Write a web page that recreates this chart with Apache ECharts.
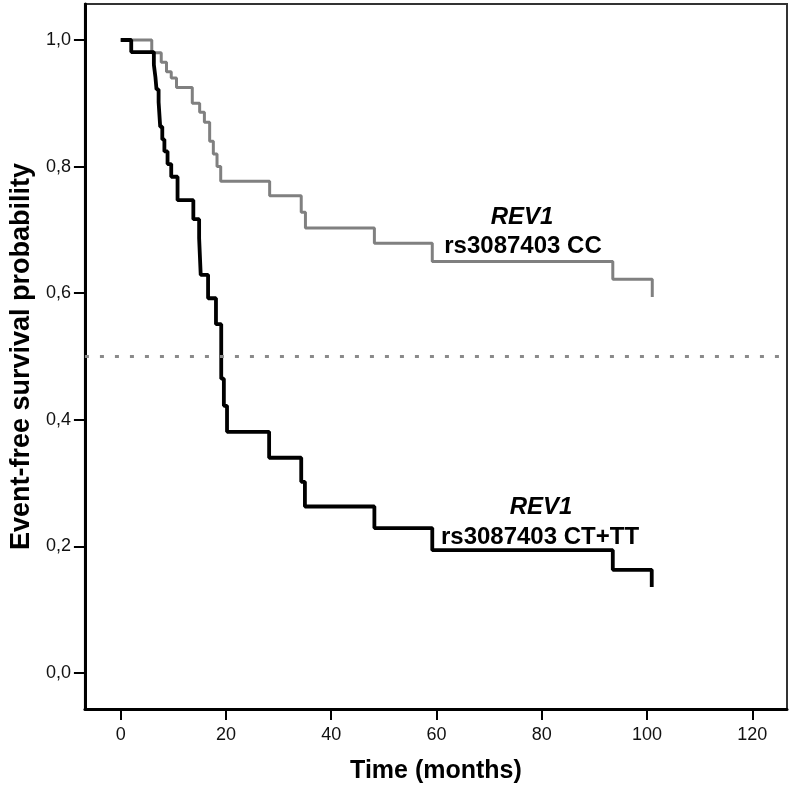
<!DOCTYPE html>
<html>
<head>
<meta charset="utf-8">
<script src="https://cdn.jsdelivr.net/npm/echarts@6/dist/echarts.min.js"></script>
<style>
html,body{margin:0;padding:0;background:#fff;}
#chart{width:792px;height:790px;}
</style>
</head>
<body>
<div id="chart"></div>
<script>
// ---- data ----
var xTicks = [0, 20, 40, 60, 80, 100, 120];
var yTicks = [0, 0.2, 0.4, 0.6, 0.8, 1.0];
// REV1 rs3087403 CC (grey): event times (months) and survival after each step
var ccTimes = [0, 5.9, 7.7, 8.7, 9.6, 10.6, 13.6, 15.0, 15.9, 16.9, 17.6, 18.3, 19.0, 28.3, 34.3, 35.1, 48.2, 59.2, 93.5, 101.0];
var ccSurv  = [1.0, 0.98, 0.965, 0.95, 0.94, 0.925, 0.90, 0.886, 0.87, 0.84, 0.82, 0.80, 0.777, 0.754, 0.728, 0.703, 0.679, 0.650, 0.622, 0.594];
// REV1 rs3087403 CT+TT (black)
var ctTimes = [0, 2.0, 6.3, 6.6, 6.8, 7.2, 7.5, 7.9, 8.3, 8.9, 9.6, 10.8, 13.8, 14.9, 15.2, 16.6, 18.1, 19.1, 19.6, 20.2, 28.2, 34.3, 35.0, 48.2, 59.2, 93.5, 100.9];
var ctSurv  = [1.0, 0.981, 0.961, 0.941, 0.922, 0.902, 0.863, 0.843, 0.824, 0.804, 0.784, 0.747, 0.717, 0.687, 0.629, 0.592, 0.551, 0.465, 0.422, 0.381, 0.340, 0.302, 0.263, 0.229, 0.194, 0.163, 0.136];
var medianLine = 0.5;
var xTitle = 'Time (months)';
var yTitle = 'Event-free survival probability';
var geneName = 'REV1';
var ccLabel = 'rs3087403 CC';
var ctLabel = 'rs3087403 CT+TT';

function pairs(t, s){ return t.map(function(v,i){ return [v, s[i]]; }); }

var chart = echarts.init(document.getElementById('chart'), null, {renderer:'canvas'});
var sans = "'Liberation Sans', Arial, sans-serif";

chart.setOption({
  animation: false,
  backgroundColor: '#fff',
  grid: {left: 80, top: 4, right: 5, bottom: 81, show: true, borderColor: '#333', borderWidth: 2, backgroundColor: 'transparent'},
  xAxis: {
    type: 'value', min: -6.8, max: 126.6,
    axisLine: {show: true, onZero: false, lineStyle: {color: '#000', width: 3}},
    axisTick: {show: true, inside: false, length: 11, customValues: xTicks, lineStyle: {color: '#000', width: 2}},
    axisLabel: {customValues: xTicks, margin: 17, fontFamily: sans, fontSize: 18, color: '#111'},
    splitLine: {show: false},
    name: xTitle, nameLocation: 'middle', nameGap: 50,
    nameTextStyle: {fontFamily: sans, fontWeight: 'bold', fontSize: 25, color: '#000'}
  },
  yAxis: {
    type: 'value', min: -0.0569, max: 1.0569,
    axisLine: {show: true, onZero: false, lineStyle: {color: '#000', width: 3}},
    axisTick: {show: true, inside: false, length: 11, customValues: yTicks, lineStyle: {color: '#000', width: 2}},
    axisLabel: {customValues: yTicks, margin: 14, fontFamily: sans, fontSize: 18, color: '#111',
      formatter: function(v){ return v.toFixed(1).replace('.', ','); }},
    splitLine: {show: false},
    name: yTitle, nameLocation: 'middle', nameGap: 46, nameRotate: 90,
    nameTextStyle: {fontFamily: sans, fontWeight: 'bold', fontSize: 27, color: '#000'}
  },
  series: [
    {
      type: 'line', name: ccLabel, step: 'end', symbol: 'none', z: 3,
      data: pairs(ccTimes, ccSurv),
      lineStyle: {color: '#808080', width: 3},
      markLine: {
        silent: true, symbol: 'none', label: {show: false},
        lineStyle: {color: '#8a8a8a', width: 3, type: [4, 11]},
        data: [{yAxis: medianLine}]
      }
    },
    {
      type: 'line', name: ctLabel, step: 'end', symbol: 'none', z: 4,
      data: pairs(ctTimes, ctSurv),
      lineStyle: {color: '#000', width: 3.8}
    }
  ],
  graphic: [
    {type: 'text', x: 522, y: 217, style: {text: geneName, fontFamily: sans, fontWeight: 'bold', fontStyle: 'italic', fontSize: 24, fill: '#000', align: 'center', verticalAlign: 'middle'}},
    {type: 'text', x: 523, y: 246, style: {text: ccLabel, fontFamily: sans, fontWeight: 'bold', fontSize: 24, fill: '#000', align: 'center', verticalAlign: 'middle'}},
    {type: 'text', x: 541, y: 507, style: {text: geneName, fontFamily: sans, fontWeight: 'bold', fontStyle: 'italic', fontSize: 24, fill: '#000', align: 'center', verticalAlign: 'middle'}},
    {type: 'text', x: 540, y: 537, style: {text: ctLabel, fontFamily: sans, fontWeight: 'bold', fontSize: 24, fill: '#000', align: 'center', verticalAlign: 'middle'}}
  ]
});
</script>
</body>
</html>
